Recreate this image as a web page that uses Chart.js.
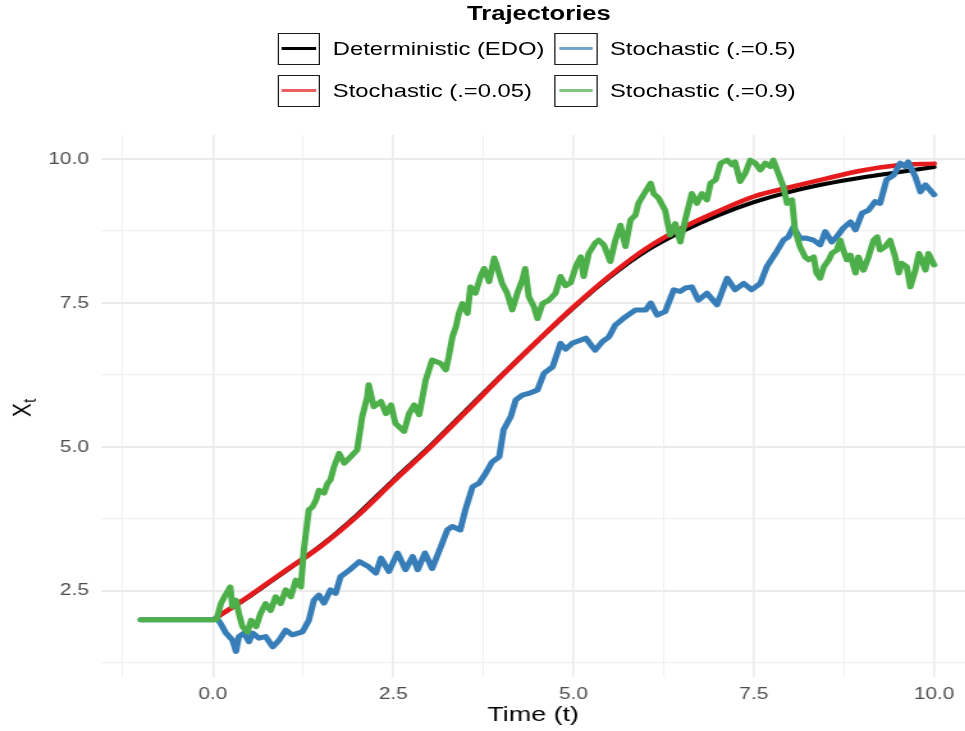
<!DOCTYPE html>
<html>
<head>
<meta charset="utf-8">
<script src="https://cdn.jsdelivr.net/npm/chart.js@4.4.1/dist/chart.umd.min.js"></script>
<style>
  html, body { margin: 0; padding: 0; background: #fff; overflow: hidden; }
  #wrap {
    position: relative; width: 754px; height: 731px;
    transform: scaleX(1.28); transform-origin: 0 0;
    font-family: "Liberation Sans", Arial, sans-serif;
  }
  #chart { position: absolute; left: 0; top: 0; width: 754px; height: 731px; }
  .ttl { position: absolute; left: 321px; width: 200px; top: 2px; text-align: center;
         font-weight: bold; font-size: 20px; color: #000; }
  .key { position: absolute; width: 33.5px; height: 32px; box-sizing: border-box;
         border: 1.5px solid #1a1a1a; background: #fff; }
  .key span { position: absolute; left: 2.5px; right: 2.5px; top: 12.7px; height: 3.5px; }
  .lab { position: absolute; font-size: 18.6px; line-height: 32px; color: #000; white-space: nowrap; }
</style>
</head>
<body>
<div id="wrap">
  <canvas id="chart" width="754" height="731"></canvas>
  <div id="legend"></div>
</div>
<script>
// time grid for the smooth curves
const timeGrid = [0, 0.5, 1, 1.5, 2, 2.5, 3, 3.5, 4, 4.5, 5, 5.5, 6, 6.5, 7, 7.5, 8, 8.5, 9, 9.5, 10];
// deterministic solution (EDO)
const edoValues = [2.00, 2.40, 2.84, 3.29, 3.82, 4.42, 5.00, 5.62, 6.24, 6.84, 7.42, 7.95, 8.40, 8.74, 9.02, 9.25, 9.43, 9.57, 9.68, 9.77, 9.86];
// stochastic, sigma = 0.05
const sig005Values = [2.00, 2.41, 2.85, 3.28, 3.80, 4.40, 4.98, 5.60, 6.23, 6.84, 7.43, 7.97, 8.44, 8.80, 9.09, 9.35, 9.51, 9.66, 9.80, 9.89, 9.92];

// stochastic, sigma = 0.5  [t, X]
const sig05Path = [
  [-1, 2.00], [0, 2.00], [0.05, 2.03], [0.10, 1.95], [0.18, 1.77], [0.27, 1.65], [0.32, 1.45], [0.36, 1.71],
  [0.43, 1.77], [0.50, 1.62], [0.55, 1.77], [0.64, 1.68], [0.73, 1.71], [0.83, 1.53], [0.92, 1.65],
  [1.01, 1.82], [1.10, 1.74], [1.24, 1.79], [1.33, 1.99], [1.40, 2.34], [1.47, 2.43], [1.54, 2.29],
  [1.63, 2.52], [1.70, 2.46], [1.77, 2.75], [1.89, 2.86], [2.03, 3.01], [2.16, 2.92], [2.26, 2.81],
  [2.33, 3.07], [2.44, 2.84], [2.56, 3.16], [2.67, 2.87], [2.77, 3.10], [2.84, 2.87], [2.94, 3.16],
  [3.04, 2.89], [3.16, 3.27], [3.25, 3.56], [3.32, 3.62], [3.43, 3.56], [3.50, 3.91], [3.60, 4.31],
  [3.69, 4.37], [3.78, 4.54], [3.87, 4.74], [3.97, 4.83], [4.03, 5.30], [4.13, 5.53], [4.20, 5.82],
  [4.29, 5.90], [4.38, 5.93], [4.50, 5.99], [4.59, 6.28], [4.71, 6.39], [4.82, 6.80], [4.89, 6.70],
  [4.98, 6.80], [5.17, 6.89], [5.30, 6.68], [5.40, 6.83], [5.49, 6.91], [5.58, 7.12], [5.72, 7.26],
  [5.86, 7.38], [6.00, 7.38], [6.07, 7.50], [6.16, 7.29], [6.27, 7.35], [6.39, 7.73], [6.48, 7.70],
  [6.55, 7.76], [6.64, 7.78], [6.73, 7.55], [6.85, 7.67], [6.99, 7.47], [7.13, 7.93], [7.24, 7.73],
  [7.36, 7.84], [7.47, 7.73], [7.59, 7.84], [7.68, 8.13], [7.80, 8.36], [7.91, 8.59], [7.98, 8.65],
  [8.05, 8.82], [8.14, 8.62], [8.21, 8.63], [8.33, 8.59], [8.42, 8.51], [8.49, 8.74], [8.58, 8.56],
  [8.65, 8.65], [8.74, 8.80], [8.84, 8.91], [8.91, 8.77], [9.00, 9.06], [9.09, 9.11], [9.18, 9.26],
  [9.25, 9.23], [9.34, 9.64], [9.44, 9.72], [9.53, 9.93], [9.60, 9.87], [9.64, 9.95], [9.74, 9.69],
  [9.81, 9.43], [9.88, 9.55], [10.00, 9.38]
];

// stochastic, sigma = 0.9  [t, X]
const sig09Path = [
  [-1, 2.00], [0, 2.00], [0.05, 2.00], [0.11, 2.28], [0.16, 2.40], [0.24, 2.57], [0.27, 2.23], [0.32, 2.34],
  [0.36, 2.11], [0.41, 1.88], [0.48, 1.79], [0.53, 1.99], [0.60, 1.88], [0.66, 2.11], [0.73, 2.28],
  [0.80, 2.16], [0.87, 2.40], [0.94, 2.28], [1.01, 2.52], [1.08, 2.40], [1.15, 2.69], [1.22, 2.57],
  [1.26, 3.21], [1.33, 3.91], [1.38, 3.96], [1.43, 4.08], [1.47, 4.25], [1.54, 4.20], [1.59, 4.37],
  [1.63, 4.43], [1.68, 4.66], [1.75, 4.89], [1.82, 4.72], [1.91, 4.83], [2.00, 4.95], [2.07, 5.53],
  [2.14, 5.87], [2.16, 6.08], [2.23, 5.70], [2.33, 5.79], [2.40, 5.58], [2.47, 5.73], [2.53, 5.41],
  [2.65, 5.27], [2.72, 5.58], [2.79, 5.73], [2.86, 5.56], [2.95, 6.16], [3.04, 6.51], [3.16, 6.45],
  [3.23, 6.34], [3.27, 6.57], [3.32, 6.91], [3.37, 7.09], [3.41, 7.32], [3.46, 7.49], [3.53, 7.32],
  [3.57, 7.78], [3.64, 7.67], [3.71, 7.96], [3.76, 8.10], [3.83, 7.87], [3.90, 8.28], [3.94, 8.13],
  [4.01, 7.84], [4.08, 7.67], [4.15, 7.38], [4.22, 7.67], [4.29, 7.90], [4.33, 8.10], [4.38, 7.61],
  [4.45, 7.44], [4.50, 7.23], [4.57, 7.49], [4.66, 7.55], [4.75, 7.67], [4.82, 7.96], [4.89, 7.80],
  [4.96, 7.85], [5.03, 8.13], [5.10, 8.30], [5.14, 7.96], [5.21, 8.36], [5.30, 8.54], [5.35, 8.59],
  [5.42, 8.51], [5.51, 8.22], [5.58, 8.59], [5.65, 8.85], [5.72, 8.48], [5.79, 8.94], [5.86, 9.03],
  [5.90, 9.23], [5.97, 9.38], [6.07, 9.58], [6.11, 9.40], [6.18, 9.32], [6.27, 9.11], [6.34, 8.68],
  [6.41, 8.88], [6.48, 8.56], [6.55, 8.95], [6.64, 9.40], [6.71, 9.23], [6.78, 9.40], [6.85, 9.29],
  [6.90, 9.58], [6.97, 9.64], [7.04, 9.93], [7.13, 9.98], [7.20, 9.90], [7.24, 9.95], [7.31, 9.61],
  [7.38, 9.75], [7.45, 9.98], [7.52, 9.93], [7.59, 9.81], [7.66, 9.93], [7.73, 9.87], [7.77, 9.98],
  [7.84, 9.75], [7.91, 9.52], [7.96, 9.23], [8.03, 9.29], [8.07, 8.77], [8.14, 8.48], [8.21, 8.30],
  [8.26, 8.25], [8.33, 8.30], [8.37, 8.02], [8.42, 7.93], [8.47, 8.13], [8.54, 8.25], [8.58, 8.36],
  [8.65, 8.42], [8.70, 8.59], [8.74, 8.42], [8.79, 8.25], [8.84, 8.33], [8.91, 8.02], [8.95, 8.30],
  [9.02, 8.07], [9.09, 8.30], [9.16, 8.59], [9.21, 8.65], [9.25, 8.42], [9.32, 8.48], [9.39, 8.59],
  [9.46, 8.30], [9.51, 8.02], [9.55, 8.19], [9.62, 8.13], [9.67, 7.78], [9.74, 8.07], [9.79, 8.36],
  [9.83, 8.25], [9.88, 8.07], [9.92, 8.36], [10.00, 8.16]
];

const seriesNames = ['Deterministic (EDO)', 'Stochastic (.=0.05)', 'Stochastic (.=0.5)', 'Stochastic (.=0.9)'];
const seriesColors = ['#000000', '#e41a1c', '#377eb8', '#4daf4a'];
const keyColors = ['#000000', 'rgba(228,26,28,0.7)', 'rgba(55,126,184,0.7)', 'rgba(77,175,74,0.7)'];

// legend (ggplot style, filled by column)
const legendSlots = [
  {left: 216.5, top: 33}, {left: 216.5, top: 75}, {left: 433, top: 33}, {left: 433, top: 75}
];
let html = '<div class="ttl">Trajectories</div>';
seriesNames.forEach((name, i) => {
  const s = legendSlots[i];
  html += `<div class="key" style="left:${s.left}px;top:${s.top}px"><span style="background:${keyColors[i]}"></span></div>`;
  html += `<div class="lab" style="left:${s.left + 43.5}px;top:${s.top}px">${name}</div>`;
});
document.getElementById('legend').innerHTML = html;

Chart.defaults.font.family = '"Liberation Sans", Arial, sans-serif';

const isMajor = v => Math.abs(v / 2.5 - Math.round(v / 2.5)) < 1e-6;
const toPts = (xs, ys) => ys.map((y, i) => ({x: xs[i], y: y}));
const fromPairs = p => p.map(d => ({x: d[0], y: d[1]}));

// y axis title X_t, drawn rotated with a subscript
const yTitle = {
  id: 'yTitle',
  afterDraw(chart) {
    const ctx = chart.ctx;
    const midY = (chart.chartArea.top + chart.chartArea.bottom) / 2;
    ctx.save();
    ctx.translate(23.5, midY + 11);
    ctx.rotate(-Math.PI / 2);
    ctx.fillStyle = '#000';
    ctx.textBaseline = 'alphabetic';
    ctx.font = '20.6px "Liberation Sans", Arial, sans-serif';
    ctx.fillText('X', 0, 0);
    const w = ctx.measureText('X').width;
    ctx.font = '14.5px "Liberation Sans", Arial, sans-serif';
    ctx.fillText('t', w + 0.5, 4);
    ctx.restore();
  }
};

new Chart(document.getElementById('chart'), {
  type: 'line',
  data: {
    datasets: [
      {label: seriesNames[0], data: toPts(timeGrid, edoValues), borderColor: seriesColors[0],
       borderWidth: 4, cubicInterpolationMode: 'monotone', order: 4},
      {label: seriesNames[1], data: toPts(timeGrid, sig005Values), borderColor: seriesColors[1],
       borderWidth: 4.5, cubicInterpolationMode: 'monotone', order: 3},
      {label: seriesNames[2], data: fromPairs(sig05Path), borderColor: seriesColors[2],
       borderWidth: 5, order: 2},
      {label: seriesNames[3], data: fromPairs(sig09Path), borderColor: seriesColors[3],
       borderWidth: 5, order: 1}
    ]
  },
  options: {
    responsive: false,
    animation: false,
    layout: {padding: {top: 135, left: 0, right: 0, bottom: 0}},
    elements: {
      point: {radius: 0, hoverRadius: 0},
      line: {tension: 0, borderCapStyle: 'round', borderJoinStyle: 'round', fill: false}
    },
    plugins: {
      legend: {display: false},
      tooltip: {enabled: false}
    },
    scales: {
      x: {
        type: 'linear',
        min: -1.55,
        max: 10.43,
        afterFit: s => { s.height = 54; },
        border: {display: false},
        grid: {
          drawTicks: false,
          color: c => (c.tick && isMajor(c.tick.value)) ? '#ebebeb' : '#f0f0f0',
          lineWidth: c => (c.tick && isMajor(c.tick.value)) ? 1.6 : 1
        },
        ticks: {
          stepSize: 1.25,
          includeBounds: false,
          autoSkip: false,
          maxRotation: 0,
          padding: 8,
          color: '#4d4d4d',
          font: {size: 16.3},
          callback: v => isMajor(v) ? v.toFixed(1) : ''
        },
        title: {
          display: true,
          text: 'Time (t)',
          color: '#000',
          font: {size: 21},
          padding: {top: 0, bottom: 3}
        }
      },
      y: {
        type: 'linear',
        min: 1.007,
        max: 10.417,
        afterFit: s => { s.width = 79; },
        border: {display: false},
        grid: {
          drawTicks: false,
          color: c => (c.tick && isMajor(c.tick.value)) ? '#ebebeb' : '#f0f0f0',
          lineWidth: c => (c.tick && isMajor(c.tick.value)) ? 2 : 1.2
        },
        ticks: {
          stepSize: 1.25,
          includeBounds: false,
          autoSkip: false,
          padding: 9.5,
          color: '#4d4d4d',
          font: {size: 16.3},
          callback: v => isMajor(v) ? v.toFixed(1) : ''
        }
      }
    }
  },
  plugins: [yTitle]
});
</script>
</body>
</html>
